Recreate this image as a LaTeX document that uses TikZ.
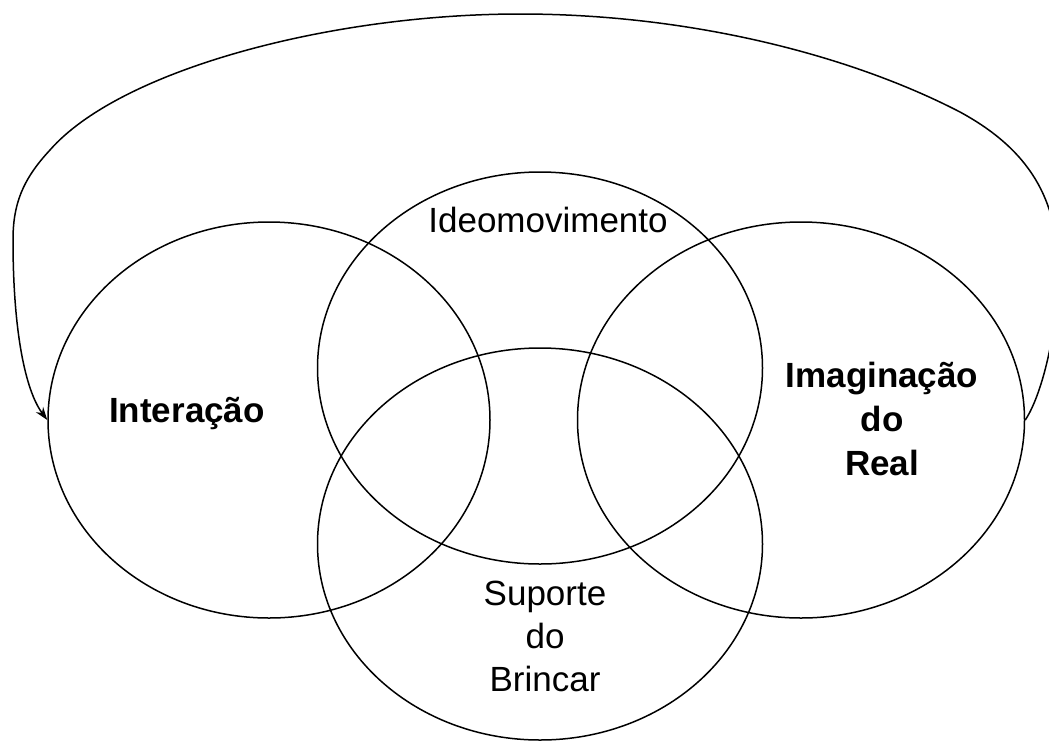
\documentclass[tikz,border=0pt]{standalone}
\usepackage{fontspec}
\setmainfont{Liberation Sans}
\usetikzlibrary{shapes.geometric,arrows.meta}
\tikzset{
  circ/.style={ellipse, draw, line width=1.5pt, inner sep=0pt, minimum width=#1},
  lbl/.style={inner sep=0pt, align=center, font=\fontsize{35pt}{44pt}\selectfont},
  blbl/.style={lbl, font=\fontsize{35pt}{44pt}\selectfont\bfseries},
  loop/.style={line width=1.5pt, -{Stealth[length=13pt,width=9pt]}}
}
\begin{document}
\begin{tikzpicture}[x=1pt,y=-1pt]
\useasboundingbox (0,0) rectangle (1049,740);
\begin{scope}
\clip (0,0) rectangle (1049,740);
\node[circ=442pt, minimum height=396pt] (L) at (269,420) {};
\node[circ=445pt, minimum height=392pt] (T) at (540,368) {};
\node[circ=447pt, minimum height=396pt] (R) at (801,420) {};
\node[circ=445pt, minimum height=392pt] (B) at (540,544) {};
\coordinate (p1) at (1058,270);
\coordinate (p2) at (960,112);
\coordinate (p3) at (520,14);
\coordinate (p4) at (50,150);
\coordinate (p5) at (13,240);
\draw[loop] (R.east) .. controls (1042,395) and (1058,330) .. (p1)
  .. controls (1058,200) and (1030,150) .. (p2)
  .. controls (850,55) and (690,14) .. (p3)
  .. controls (330,14) and (120,70) .. (p4)
  .. controls (22,180) and (13,205) .. (p5)
  .. controls (13,330) and (25,390) .. (L.west);
\end{scope}
\node[blbl, anchor=base] (tL) at (187,422) {Interação};
\node[lbl, anchor=base] (tT) at (548,232) {Ideomovimento};
\node[blbl] (tR) at (882,419) {Imaginação\\do\\Real};
\node[lbl, font=\fontsize{35pt}{43pt}\selectfont] (tB) at (545,636) {Suporte\\do\\Brincar};
\end{tikzpicture}
\end{document}
